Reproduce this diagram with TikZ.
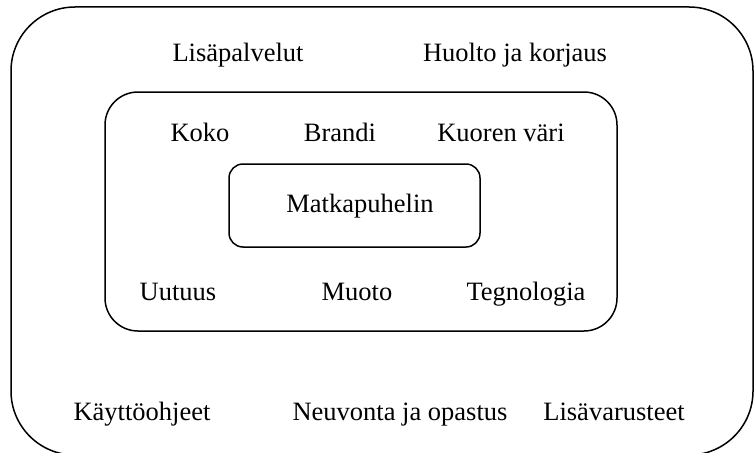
\documentclass[tikz,border=0pt]{standalone}
\usepackage{fontspec}
\setmainfont{Liberation Serif}
\begin{document}
\begin{tikzpicture}[x=1pt,y=-1pt,
  box/.style={draw=black,line width=1.5pt},
  lbl/.style={anchor=base,inner sep=0pt,font=\fontsize{26.5}{31}\selectfont}]
\useasboundingbox (0,0) rectangle (754,452);
\begin{scope}
\clip (0,0) rectangle (754,452);
\draw[box,rounded corners=64pt] (11,7) rectangle (753,455);
\end{scope}
\draw[box,rounded corners=33pt] (105,92) rectangle (617,331);
\node[box,draw,rounded corners=14pt,minimum width=251pt,minimum height=83pt] (phone) at (354.5,205.5) {};
\node[lbl] (lisa) at (238,62) {Lisäpalvelut};
\node[lbl] (huolto) at (515,62) {Huolto ja korjaus};
\node[lbl] (koko) at (200,141) {Koko};
\node[lbl] (brandi) at (340,141) {Brandi};
\node[lbl] (kuori) at (501,141) {Kuoren väri};
\node[lbl] (matka) at (360,212) {Matkapuhelin};
\node[lbl] (uutuus) at (178,300) {Uutuus};
\node[lbl] (muoto) at (357,300) {Muoto};
\node[lbl] (tegno) at (526,300) {Tegnologia};
\node[lbl] (kaytto) at (142,420) {Käyttöohjeet};
\node[lbl] (neuvo) at (400,420) {Neuvonta ja opastus};
\node[lbl] (varus) at (614,420) {Lisävarusteet};
\end{tikzpicture}
\end{document}
